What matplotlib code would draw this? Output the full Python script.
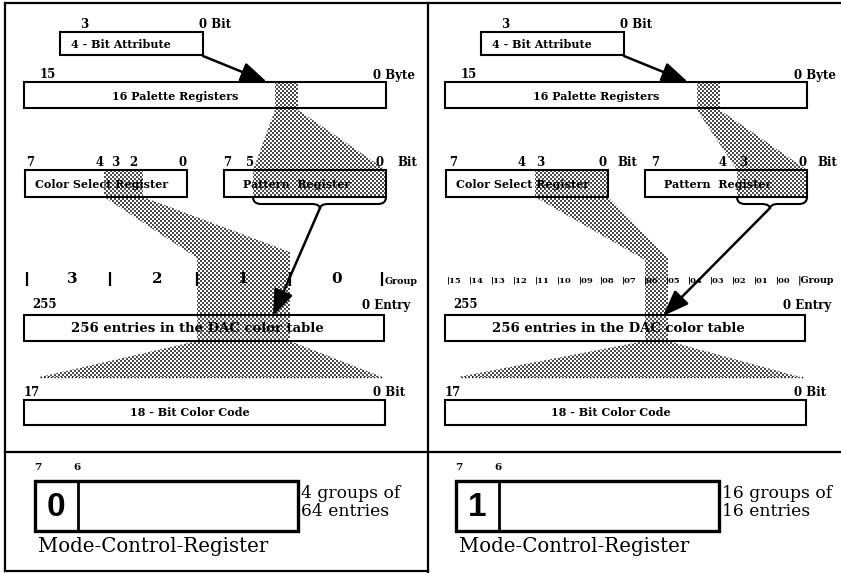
import numpy as np
import matplotlib
matplotlib.use("Agg")
import matplotlib.pyplot as plt
from matplotlib.patches import Rectangle, Polygon, PathPatch
from matplotlib.path import Path

# texts of the diagram
attr_bits = ["3", "0 Bit"]
palette_bits = ["15", "0 Byte"]
entry_bits = ["255", "0 Entry"]
code_bits = ["17", "0 Bit"]
register_names = [
    "4 - Bit Attribute",
    "16 Palette Registers",
    "Color Select Register",
    "Pattern  Register",
    "256 entries in the DAC color table",
    "18 - Bit Color Code",
]
cs_bits_left = ["7", "4", "3", "2", "0"]
pat_bits_left = ["7", "5", "0"]
cs_bits_right = ["7", "4", "3", "0"]
pat_bits_right = ["7", "4", "3", "0"]
groups_left = ["3", "2", "1", "0"]
groups_right = ["15", "14", "13", "12", "11", "10", "09", "08",
                "07", "06", "05", "04", "03", "02", "01", "00"]
mode_bits = ["7", "6"]
mode_values = ["0", "1"]
mode_desc = [["4 groups of", "64 entries"], ["16 groups of", "16 entries"]]
mode_name = "Mode-Control-Register"

W, H = 841, 573
fig = plt.figure(figsize=(W / 100, H / 100), dpi=100)
ax = fig.add_axes([0, 0, 1, 1])
ax.axis("off")

SB = dict(family="DejaVu Serif", weight="bold", color="black", zorder=4)
SR = dict(family="DejaVu Serif", color="black", zorder=4)

# halftone texture used for the grey bands
yy, xx = np.mgrid[0:H, 0:W]
dots = ((xx // 2 + yy // 2) % 2 == 0)
texture = np.zeros((H, W, 4))
texture[..., :3] = 0.3
texture[..., 3] = dots * 1.0


def box(x0, y0, x1, y1, lw=1.5):
    ax.add_patch(Rectangle((x0, y0), x1 - x0, y1 - y0, facecolor="white",
                           edgecolor="none", zorder=1))
    ax.add_patch(Rectangle((x0, y0), x1 - x0, y1 - y0, fill=False,
                           edgecolor="black", lw=lw, zorder=3))


def shade(points):
    poly = Polygon(points, closed=True, facecolor="none", edgecolor="none")
    ax.add_patch(poly)
    im = ax.imshow(texture, extent=(0, W, H, 0), interpolation="nearest",
                   aspect="auto", zorder=2)
    im.set_clip_path(poly)


def arrow(x0, y0, x1, y1):
    ax.annotate("", xy=(x1, y1), xytext=(x0, y0), zorder=5,
                arrowprops=dict(arrowstyle="-|>,head_length=0.8,head_width=0.3",
                                mutation_scale=20, lw=1.8, color="black",
                                shrinkA=0, shrinkB=0))


def brace(x0, x1, xc, y0):
    h, r = 7, 8
    verts = [(x0, y0), (x0, y0 + h), (x0 + r, y0 + h),
             (xc - r, y0 + h), (xc, y0 + h), (xc, y0 + h + 5),
             (xc, y0 + h), (xc + r, y0 + h),
             (x1 - r, y0 + h), (x1, y0 + h), (x1, y0)]
    codes = [Path.MOVETO, Path.CURVE3, Path.CURVE3,
             Path.LINETO, Path.CURVE3, Path.CURVE3,
             Path.CURVE3, Path.CURVE3,
             Path.LINETO, Path.CURVE3, Path.CURVE3]
    ax.add_patch(PathPatch(Path(verts, codes), fill=False, lw=1.5,
                           edgecolor="black", zorder=4))


def common(dx, m):
    # 4-bit attribute
    ax.text(dx + 84, 24, attr_bits[0], ha="center", va="center", fontsize=8.5, **SB)
    ax.text(dx + 199, 24, attr_bits[1], ha="left", va="center", fontsize=8.5, **SB)
    box(dx + 60, 32, dx + 203, 55)
    ax.text(dx + 121, 44, register_names[0], ha="center", va="center", fontsize=8, **SB)
    arrow(dx + 203, 56, dx + 267, 82)
    # palette
    ax.text(dx + 40, 75, palette_bits[0], ha="left", va="center", fontsize=8.5, **SB)
    ax.text(dx + 373, 75, palette_bits[1], ha="left", va="center", fontsize=8.5, **SB)
    box(dx + 24, 82, dx + 386, 108)
    ax.text(dx + 175, 96, register_names[1], ha="center", va="center", fontsize=8, **SB)
    # color select / pattern
    box(dx + 25, 170, dx + 187, 197)
    ax.text(dx + 35, 184, register_names[2], ha="left", va="center", fontsize=8, **SB)
    box(dx + 224, 170, dx + 386, 197)
    ax.text(dx + 243, 184, register_names[3], ha="left", va="center", fontsize=8, **SB)
    # DAC table
    ax.text(dx + 32, 305, entry_bits[0], ha="left", va="center", fontsize=8.5, **SB)
    ax.text(dx + 410, 305, entry_bits[1], ha="right", va="center", fontsize=8.5, **SB)
    box(dx + 24, 315, dx + 384, 341)
    ax.text(dx + 197, 328, register_names[4], ha="center", va="center", fontsize=9.5, **SB)
    ax.plot([dx + 40, dx + 382], [377, 377], ls=(0, (1, 1.5)), lw=1.0,
            color="black", zorder=4)
    # color code
    ax.text(dx + 24, 392, code_bits[0], ha="left", va="center", fontsize=8.5, **SB)
    ax.text(dx + 373, 392, code_bits[1], ha="left", va="center", fontsize=8.5, **SB)
    box(dx + 24, 400, dx + 385, 425)
    ax.text(dx + 190, 412, register_names[5], ha="center", va="center", fontsize=8, **SB)
    # mode control register
    ax.text(dx + 38, 467, mode_bits[0], ha="center", va="center", fontsize=7.5, **SB)
    ax.text(dx + 77, 467, mode_bits[1], ha="center", va="center", fontsize=7.5, **SB)
    box(dx + 35, 481, dx + 298, 531, lw=2.4)
    ax.plot([dx + 78, dx + 78], [481, 531], color="black", lw=2.0, zorder=3)
    ax.text(dx + 56, 507, mode_values[m], ha="center", va="center", fontsize=24,
            family="Liberation Sans", weight="bold", zorder=4)
    ax.text(dx + 301, 493, mode_desc[m][0], ha="left", va="center", fontsize=12.3, **SR)
    ax.text(dx + 301, 511, mode_desc[m][1], ha="left", va="center", fontsize=12.3, **SR)
    ax.text(dx + 38, 547, mode_name, ha="left", va="center", fontsize=14.2, **SR)


# ---- left panel: 4 groups of 64 entries
common(0, 0)
for lab, x in zip(cs_bits_left, [30, 100, 115, 133, 183]):
    ax.text(x, 162, lab, ha="center", va="center", fontsize=8.5, **SB)
for lab, x in zip(pat_bits_left, [227, 250, 380]):
    ax.text(x, 162, lab, ha="center", va="center", fontsize=8.5, **SB)
ax.text(397, 162, "Bit", ha="left", va="center", fontsize=8.5, **SB)

shade([(275, 82), (298, 82), (298, 110), (386, 170), (386, 197),
       (253, 197), (253, 170), (275, 110)])
shade([(104, 170), (143, 170), (143, 197), (290, 252), (290, 341),
       (382, 377), (40, 377), (197, 341), (197, 258), (104, 197)])
brace(253, 386, 320, 197)
arrow(320, 208, 273, 316)

ax.vlines([27, 110, 197, 290, 382], 272, 286, color="black", lw=1.6, zorder=4)
for lab, x in zip(groups_left, [72, 157, 243, 337]):
    ax.text(x, 279, lab, ha="center", va="center", fontsize=11, **SB)
ax.text(385, 281, "Group", ha="left", va="center", fontsize=6.8, **SB)

# ---- right panel: 16 groups of 16 entries
R = 421
common(R, 1)
for lab, x in zip(cs_bits_right, [453, 522, 540, 603]):
    ax.text(x, 162, lab, ha="center", va="center", fontsize=8.5, **SB)
ax.text(617, 162, "Bit", ha="left", va="center", fontsize=8.5, **SB)
for lab, x in zip(pat_bits_right, [655, 723, 743, 803]):
    ax.text(x, 162, lab, ha="center", va="center", fontsize=8.5, **SB)
ax.text(817, 162, "Bit", ha="left", va="center", fontsize=8.5, **SB)

shade([(697, 82), (720, 82), (720, 110), (807, 170), (807, 197),
       (737, 197), (737, 170), (697, 110)])
shade([(535, 170), (608, 170), (608, 197), (668, 258), (668, 341),
       (800, 377), (458, 377), (645, 341), (645, 260), (535, 197)])
brace(737, 807, 770, 197)
arrow(770, 208, 663, 316)

for i, lab in enumerate(groups_right):
    ax.text(447 + i * 21.9, 280, "|" + lab, ha="left", va="center",
            fontsize=6, **SB)
ax.text(798, 280, "|Group", ha="left", va="center", fontsize=6.8, **SB)

# frame lines
frame = dict(color="black", lw=1.6, zorder=6)
ax.plot([5, W], [3, 3], **frame)
ax.plot([5, 5], [3, 571], **frame)
ax.plot([428, 428], [3, H], **frame)
ax.plot([5, W], [452, 452], **frame)
ax.plot([5, 428], [571, 571], **frame)

ax.set_xlim(0, W)
ax.set_ylim(H, 0)
fig.savefig("out.png", dpi=100, facecolor="white")
